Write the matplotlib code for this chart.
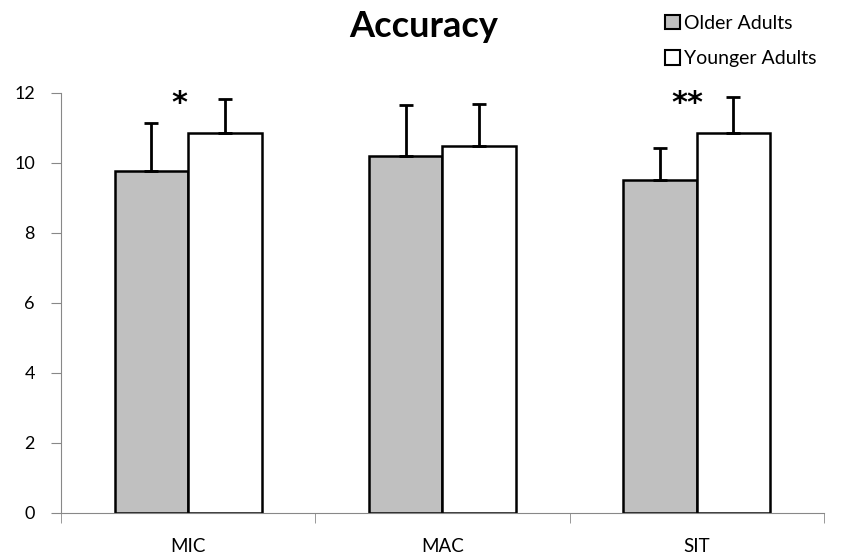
import numpy as np
import matplotlib
matplotlib.use("Agg")
import matplotlib.pyplot as plt
from matplotlib.patches import Patch

plt.rcParams['font.family'] = ['Lato', 'DejaVu Sans']

categories = ['MIC', 'MAC', 'SIT']
older = [9.77, 10.2, 9.51]
older_err = [1.37, 1.46, 0.92]
younger = [10.86, 10.49, 10.86]
younger_err = [0.97, 1.2, 1.03]
stars = ['*', '', '**']

fig = plt.figure(figsize=(8.5, 5.6), dpi=100)
ax = fig.add_axes([0.072, 0.084, 0.897, 0.75])

x = np.arange(len(categories))
w = 0.29
ekw = dict(elinewidth=2, capsize=5, capthick=2, ecolor='black')
ax.bar(x - w / 2, older, w, color='#c0c0c0', edgecolor='black', linewidth=1.8,
       yerr=[np.zeros(3), older_err], error_kw=ekw, label='Older Adults')
ax.bar(x + w / 2, younger, w, color='white', edgecolor='black', linewidth=1.8,
       yerr=[np.zeros(3), younger_err], error_kw=ekw, label='Younger Adults')

# significance markers
for i, s in enumerate(stars):
    if s:
        ax.text(x[i] - 0.035, 11.7, s, ha='center', va='center', fontsize=22,
                fontweight='bold', family='DejaVu Sans')

ax.set_xlim(-0.5, 2.5)
ax.set_ylim(0, 12)
ax.set_yticks(range(0, 13, 2))
ax.set_xticks(x)
ax.set_xticklabels(categories)
ax.set_xticks([-0.5, 0.5, 1.5, 2.5], minor=True)
ax.tick_params(axis='x', which='major', length=0, pad=18, labelsize=13.5)
ax.tick_params(axis='x', which='minor', length=7, color='#888888')
ax.tick_params(axis='y', length=7, color='#888888', labelsize=13, pad=12)
for side in ['top', 'right']:
    ax.spines[side].set_visible(False)
for side in ['left', 'bottom']:
    ax.spines[side].set_color('#888888')

fig.text(0.498, 0.953, 'Accuracy', ha='center', va='center', fontsize=26,
         fontweight='bold')

handles = [Patch(facecolor='#c0c0c0', edgecolor='black', linewidth=1.5),
           Patch(facecolor='white', edgecolor='black', linewidth=1.5)]
fig.legend(handles, ['Older Adults', 'Younger Adults'], loc='upper left',
           bbox_to_anchor=(0.762, 1.005), frameon=False, fontsize=14,
           handlelength=0.75, handleheight=0.75, handletextpad=0.2,
           labelspacing=0.95)

fig.savefig('out.png', dpi=100)
